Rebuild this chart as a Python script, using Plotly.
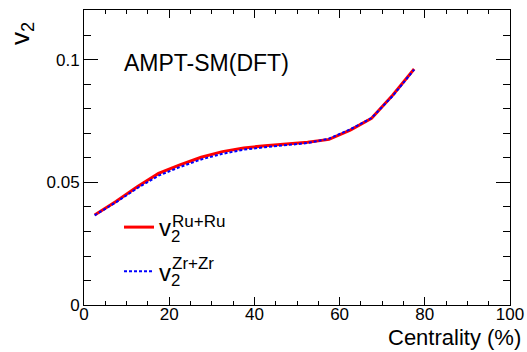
import plotly.graph_objects as go

centrality = [2.5, 7.5, 12.5, 17.5, 22.5, 27.5, 32.5, 37.5, 42.5, 47.5, 52.5, 57.5, 62.5, 67.5, 72.5, 77.5]
v2_ru = [0.0367, 0.0422, 0.0483, 0.0537, 0.0572, 0.0603, 0.0626, 0.0641, 0.0650, 0.0656, 0.0664, 0.0676, 0.0714, 0.0762, 0.0857, 0.0963]
v2_zr = [0.0366, 0.0419, 0.0477, 0.0528, 0.0563, 0.0594, 0.0617, 0.0634, 0.0644, 0.0652, 0.0661, 0.0679, 0.0717, 0.0763, 0.0854, 0.0961]

FONT = "Liberation Sans, Arial, sans-serif"

fig = go.Figure()
fig.add_trace(go.Scatter(x=centrality, y=v2_ru, mode="lines", name="v<sub>2</sub>",
                         line=dict(color="#ff0000", width=3), legendgroup="a"))
fig.add_trace(go.Scatter(x=centrality, y=v2_zr, mode="lines", name="v<sub>2</sub>",
                         line=dict(color="#0000ff", width=2, dash="3px,2px"), legendgroup="b"))

W, H = 527, 352
L, R, T, B = 84, 17, 10, 47

def px(x):
    return (x - L) / (W - L - R)

def py(y):
    return (H - B - y) / (H - T - B)

axis_common = dict(showline=True, linecolor="black", linewidth=1, mirror="ticks",
                   ticks="inside", tickcolor="black", showgrid=False, zeroline=False,
                   automargin=False,
                   tickfont=dict(family=FONT, size=17, color="black"))

fig.update_xaxes(range=[0, 100], dtick=20, tick0=0, ticklen=8, ticklabelstandoff=-6,
                 minor=dict(dtick=5, tick0=0, ticklen=4, ticks="inside", tickcolor="black", showgrid=False),
                 **axis_common)
fig.update_yaxes(range=[0, 0.1204], tickvals=[0, 0.05, 0.1], ticktext=["0", "0.05", "0.1"], ticklen=14,
                 minor=dict(dtick=0.01, tick0=0, ticklen=7, ticks="inside", tickcolor="black", showgrid=False),
                 **axis_common)

fig.update_layout(
    width=W, height=H,
    margin=dict(l=L, r=R, t=T, b=B, autoexpand=False),
    paper_bgcolor="white", plot_bgcolor="white",
    font=dict(family=FONT, color="black"),
    showlegend=True,
    legend=dict(x=px(119), y=py(205), xanchor="left", yanchor="top",
                bgcolor="rgba(0,0,0,0)", font=dict(family=FONT, size=24, color="black"),
                traceorder="grouped", tracegroupgap=10, itemwidth=30),
    annotations=[
        dict(text="AMPT-SM(DFT)", x=px(122), y=py(63), xref="paper", yref="paper",
             xanchor="left", yanchor="middle", showarrow=False,
             font=dict(family=FONT, size=23, color="black")),
        dict(text="Centrality (%)", x=px(523), y=py(337), xref="paper", yref="paper",
             xanchor="right", yanchor="middle", showarrow=False,
             font=dict(family=FONT, size=22, color="black")),
        dict(text="v<sub>2</sub>", x=px(21), y=py(34), xref="paper", yref="paper",
             xanchor="center", yanchor="middle", showarrow=False, textangle=-90,
             font=dict(family=FONT, size=26, color="black")),
        dict(text="Ru+Ru", x=px(170), y=py(221), xref="paper", yref="paper",
             xanchor="left", yanchor="middle", showarrow=False,
             font=dict(family=FONT, size=17, color="black")),
        dict(text="Zr+Zr", x=px(170), y=py(263), xref="paper", yref="paper",
             xanchor="left", yanchor="middle", showarrow=False,
             font=dict(family=FONT, size=17, color="black")),
    ],
)

fig.write_html("out.html", config={"displayModeBar": False},
               post_script="document.body.style.margin='0';document.body.style.overflow='hidden';")
